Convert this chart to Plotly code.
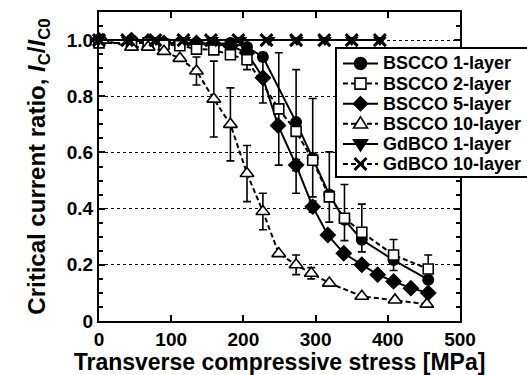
import plotly.graph_objects as go

# ---- data ----
b1_x = [0, 45, 68, 90, 112, 135, 159, 182, 205, 227, 273, 296, 319, 340, 364, 408, 456]
b1_y = [1.0, 1.0, 0.995, 0.99, 0.99, 0.99, 0.985, 0.99, 0.975, 0.94, 0.708, 0.58, 0.45, 0.36, 0.289, 0.217, 0.147]

b2_x = [0, 45, 68, 90, 112, 135, 159, 182, 205, 249, 273, 296, 319, 340, 364, 408, 456]
b2_y = [0.99, 0.99, 0.99, 0.985, 0.98, 0.968, 0.965, 0.948, 0.93, 0.755, 0.675, 0.572, 0.442, 0.366, 0.316, 0.235, 0.185]
b2_eplus = [0, 0, 0, 0, 0, 0, 0, 0, 0.035, 0.20, 0.22, 0.22, 0.16, 0.12, 0.10, 0.055, 0.05]
b2_eminus = [0, 0, 0, 0, 0, 0, 0, 0, 0.035, 0.20, 0.22, 0.13, 0.09, 0.08, 0.07, 0.055, 0.05]

b5_x = [0, 45, 68, 90, 112, 135, 159, 182, 205, 227, 248, 273, 296, 317, 339, 364, 386, 408, 432, 456]
b5_y = [1.0, 1.0, 0.995, 0.99, 0.99, 0.99, 0.985, 0.98, 0.955, 0.866, 0.696, 0.555, 0.407, 0.306, 0.241, 0.20, 0.165, 0.141, 0.117, 0.10]
b5_err = [0, 0, 0, 0, 0, 0, 0, 0, 0, 0.09, 0, 0.02, 0.02, 0, 0, 0, 0, 0, 0, 0]

b10_x = [5, 45, 68, 90, 112, 135, 159, 182, 205, 227, 249, 273, 294, 319, 364, 410, 454]
b10_y = [1.0, 0.975, 0.975, 0.96, 0.935, 0.89, 0.79, 0.70, 0.525, 0.39, 0.24, 0.20, 0.17, 0.135, 0.088, 0.075, 0.06]
b10_err = [0, 0, 0, 0, 0, 0.05, 0.135, 0.13, 0.10, 0.065, 0, 0.035, 0.02, 0, 0, 0, 0]

g1_x = [0, 40, 79, 118, 157, 196, 235, 274, 313, 350, 389]
g1_y = [1.0, 1.0, 1.0, 1.0, 1.0, 1.0, 1.0, 1.0, 1.0, 1.0, 1.0]

g10_x = [0, 39, 78, 117, 155, 193, 232, 273, 312, 350, 389]
g10_y = [1.0, 1.0, 1.0, 1.0, 1.0, 1.0, 1.0, 1.0, 1.0, 1.0, 1.0]

series_names = ["BSCCO 1-layer", "BSCCO 2-layer", "BSCCO 5-layer",
                "BSCCO 10-layer", "GdBCO 1-layer", "GdBCO 10-layer"]

y_tickvals = [0, 0.2, 0.4, 0.6, 0.8, 1.0]
y_ticktext = ["0", "0.2", "0.4", "0.6", "0.8", "1.0"]
x_tickvals = [0, 100, 200, 300, 400, 500]

FONT = "Liberation Sans"
DASH = "5px,3px"

# figure geometry (pixels)
W, H = 527, 375
ML, MR, MT, MB = 99, 67, 12, 54
PW, PH = W - ML - MR, H - MT - MB


def px_x(px):
    return (px - ML) / PW


def px_y(py):
    return (H - MB - py) / PH


def P(px, py):
    return f"{px_x(px):.5f},{px_y(py):.5f}"


fig = go.Figure()


def err(arr_plus, arr_minus=None):
    d = dict(type="data", array=arr_plus, visible=True, color="black", thickness=1.6, width=4)
    if arr_minus is not None:
        d["symmetric"] = False
        d["arrayminus"] = arr_minus
    return d


fig.add_trace(go.Scatter(
    x=b1_x, y=b1_y, name=series_names[0], mode="lines+markers",
    line=dict(color="black", width=2),
    marker=dict(symbol="circle", size=12, color="black"),
    cliponaxis=False))

fig.add_trace(go.Scatter(
    x=b5_x, y=b5_y, name=series_names[2], mode="lines+markers",
    line=dict(color="black", width=2),
    marker=dict(symbol="diamond", size=13, color="black"),
    error_y=err(b5_err), cliponaxis=False))

fig.add_trace(go.Scatter(
    x=b2_x, y=b2_y, name=series_names[1], mode="lines+markers",
    line=dict(color="black", width=2, dash=DASH),
    marker=dict(symbol="square", size=10, color="white", line=dict(color="black", width=1.6)),
    error_y=err(b2_eplus, b2_eminus), cliponaxis=False))

fig.add_trace(go.Scatter(
    x=b10_x, y=b10_y, name=series_names[3], mode="lines+markers",
    line=dict(color="black", width=2, dash=DASH),
    marker=dict(symbol="triangle-up", size=12, color="white", line=dict(color="black", width=1.6)),
    error_y=err(b10_err), cliponaxis=False))

fig.add_trace(go.Scatter(
    x=g1_x, y=g1_y, name=series_names[4], mode="lines+markers",
    line=dict(color="black", width=2),
    marker=dict(symbol="triangle-down", size=12, color="black"),
    cliponaxis=False))

fig.add_trace(go.Scatter(
    x=g10_x, y=g10_y, name=series_names[5], mode="lines+markers",
    line=dict(color="black", width=2, dash=DASH),
    marker=dict(symbol="x-thin", size=12, color="black", line=dict(color="black", width=3)),
    cliponaxis=False))

# ---- legend drawn as a boxed key (shapes + text) ----
shapes = []
annotations = []
box_l, box_t, box_b, box_r = 336, 48, 177, 545
shapes.append(dict(type="rect", xref="paper", yref="paper", layer="above",
                   x0=px_x(box_l), x1=px_x(box_r), y0=px_y(box_b), y1=px_y(box_t),
                   fillcolor="white", line=dict(color="black", width=2)))

row0, row_step = 63.5, 20.1
ln_l, ln_r, mk_c, txt_l = 343, 378, 360.5, 381
styles = [
    ("solid", "circle", True),
    (DASH, "square", False),
    ("solid", "diamond", True),
    (DASH, "triangle-up", False),
    ("solid", "triangle-down", True),
    (DASH, "x", True),
]
for i, (name, (dash, sym, filled)) in enumerate(zip(series_names, styles)):
    yc = row0 + i * row_step
    shapes.append(dict(type="line", xref="paper", yref="paper", layer="above",
                       x0=px_x(ln_l), x1=px_x(ln_r), y0=px_y(yc), y1=px_y(yc),
                       line=dict(color="black", width=2, dash=dash)))
    fill = "black" if filled else "white"
    mline = dict(color="black", width=1.6)
    cx = mk_c
    if sym == "circle":
        r = 6
        shapes.append(dict(type="circle", xref="paper", yref="paper", layer="above",
                           x0=px_x(cx - r), x1=px_x(cx + r), y0=px_y(yc + r), y1=px_y(yc - r),
                           fillcolor=fill, line=mline))
    elif sym == "square":
        r = 5.5
        shapes.append(dict(type="rect", xref="paper", yref="paper", layer="above",
                           x0=px_x(cx - r), x1=px_x(cx + r), y0=px_y(yc + r), y1=px_y(yc - r),
                           fillcolor=fill, line=mline))
    elif sym == "diamond":
        r = 7
        path = f"M{P(cx, yc - r)} L{P(cx + r, yc)} L{P(cx, yc + r)} L{P(cx - r, yc)} Z"
        shapes.append(dict(type="path", xref="paper", yref="paper", layer="above",
                           path=path, fillcolor=fill, line=mline))
    elif sym == "triangle-up":
        r = 7
        path = f"M{P(cx, yc - r)} L{P(cx + r, yc + r * 0.6)} L{P(cx - r, yc + r * 0.6)} Z"
        shapes.append(dict(type="path", xref="paper", yref="paper", layer="above",
                           path=path, fillcolor=fill, line=mline))
    elif sym == "triangle-down":
        r = 7
        path = f"M{P(cx, yc + r)} L{P(cx + r, yc - r * 0.6)} L{P(cx - r, yc - r * 0.6)} Z"
        shapes.append(dict(type="path", xref="paper", yref="paper", layer="above",
                           path=path, fillcolor=fill, line=mline))
    elif sym == "x":
        r = 6
        path = f"M{P(cx - r, yc - r)} L{P(cx + r, yc + r)} M{P(cx + r, yc - r)} L{P(cx - r, yc + r)}"
        shapes.append(dict(type="path", xref="paper", yref="paper", layer="above",
                           path=path, line=dict(color="black", width=3)))
    annotations.append(dict(xref="paper", yref="paper", x=px_x(txt_l), y=px_y(yc),
                            xanchor="left", yanchor="middle", showarrow=False, text=name,
                            font=dict(family=FONT, size=18, color="black", weight="bold")))

fig.update_layout(
    width=W, height=H,
    margin=dict(l=ML, r=MR, t=MT, b=MB, autoexpand=False),
    paper_bgcolor="white", plot_bgcolor="white",
    font=dict(family=FONT, color="black", size=18),
    showlegend=False,
    shapes=shapes,
    annotations=annotations,
)

fig.update_xaxes(
    range=[0, 500], tickvals=x_tickvals, automargin=False,
    showline=True, linecolor="black", linewidth=2, mirror="ticks",
    ticks="inside", ticklen=6, tickwidth=2, tickcolor="black",
    showgrid=False, zeroline=False,
    tickfont=dict(family=FONT, size=19, weight="bold"),
    title=dict(text="Transverse compressive stress [MPa]", standoff=6,
               font=dict(family=FONT, size=23, weight="bold")),
)
fig.update_yaxes(
    range=[0, 1.1], tickvals=y_tickvals, ticktext=y_ticktext, automargin=False,
    showline=True, linecolor="black", linewidth=2, mirror="ticks",
    ticks="inside", ticklen=6, tickwidth=2, tickcolor="black",
    minor=dict(ticks="inside", dtick=0.05, ticklen=4, tickwidth=1.5, tickcolor="black", showgrid=False),
    showgrid=True, gridcolor="black", griddash="dot", gridwidth=1,
    zeroline=False,
    tickfont=dict(family=FONT, size=19, weight="bold"),
    title=dict(text="Critical current ratio, <i>I</i><sub>C</sub>/<i>I</i><sub>C0</sub>", standoff=14,
               font=dict(family=FONT, size=24, weight="bold")),
)

fig.write_html("out.html")
